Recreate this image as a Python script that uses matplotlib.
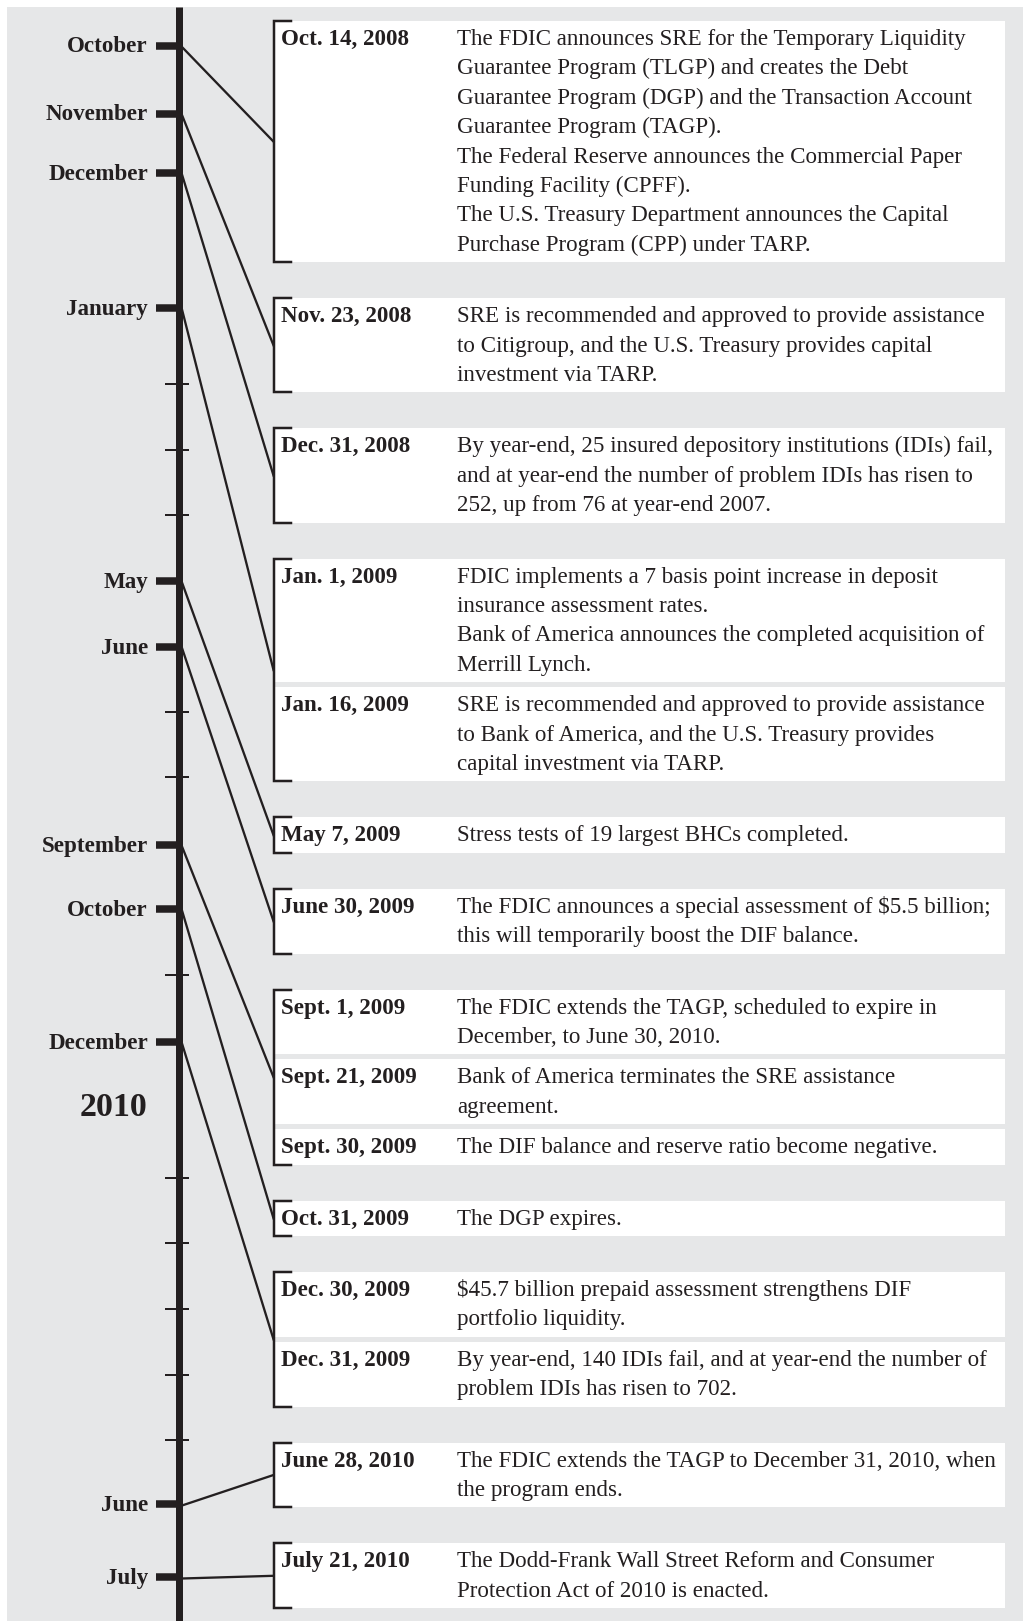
"""FDIC crisis timeline, Oct 2008 - July 2010."""

import matplotlib
matplotlib.use("Agg")
import matplotlib.pyplot as plt
from matplotlib.patches import Rectangle

plt.rcParams["font.family"] = ["Liberation Serif", "DejaVu Serif"]

INK = "#231f20"
BG = "#e6e7e8"

# timeline: month labels and their positions along the axis (pixels from top)
month_labels = ["October", "November", "December", "January", "May", "June",
                "September", "October", "December", "June", "July"]
month_y = [45.5, 113.5, 173, 308, 581, 646.5, 845, 909, 1042, 1504, 1577]
minor_y = [384, 449.5, 515, 711.5, 776.5, 975, 1177.5, 1243, 1309, 1375, 1440]
year_label = "2010"
year_y = 1104

# events: date, group (shares one bracket / month), text lines
dates = ["Oct. 14, 2008", "Nov. 23, 2008", "Dec. 31, 2008", "Jan. 1, 2009",
         "Jan. 16, 2009", "May 7, 2009", "June 30, 2009", "Sept. 1, 2009",
         "Sept. 21, 2009", "Sept. 30, 2009", "Oct. 31, 2009", "Dec. 30, 2009",
         "Dec. 31, 2009", "June 28, 2010", "July 21, 2010"]
groups = [0, 1, 2, 3, 3, 4, 5, 6, 6, 6, 7, 8, 8, 9, 10]
texts = [
    ["The FDIC announces SRE for the Temporary Liquidity",
     "Guarantee Program (TLGP) and creates the Debt",
     "Guarantee Program (DGP) and the Transaction Account",
     "Guarantee Program (TAGP).",
     "The Federal Reserve announces the Commercial Paper",
     "Funding Facility (CPFF).",
     "The U.S. Treasury Department announces the Capital",
     "Purchase Program (CPP) under TARP."],
    ["SRE is recommended and approved to provide assistance",
     "to Citigroup, and the U.S. Treasury provides capital",
     "investment via TARP."],
    ["By year-end, 25 insured depository institutions (IDIs) fail,",
     "and at year-end the number of problem IDIs has risen to",
     "252, up from 76 at year-end 2007."],
    ["FDIC implements a 7 basis point increase in deposit",
     "insurance assessment rates.",
     "Bank of America announces the completed acquisition of",
     "Merrill Lynch."],
    ["SRE is recommended and approved to provide assistance",
     "to Bank of America, and the U.S. Treasury provides",
     "capital investment via TARP."],
    ["Stress tests of 19 largest BHCs completed."],
    ["The FDIC announces a special assessment of $5.5 billion;",
     "this will temporarily boost the DIF balance."],
    ["The FDIC extends the TAGP, scheduled to expire in",
     "December, to June 30, 2010."],
    ["Bank of America terminates the SRE assistance",
     "agreement."],
    ["The DIF balance and reserve ratio become negative."],
    ["The DGP expires."],
    ["$45.7 billion prepaid assessment strengthens DIF",
     "portfolio liquidity."],
    ["By year-end, 140 IDIs fail, and at year-end the number of",
     "problem IDIs has risen to 702."],
    ["The FDIC extends the TAGP to December 31, 2010, when",
     "the program ends."],
    ["The Dodd-Frank Wall Street Reform and Consumer",
     "Protection Act of 2010 is enacted."],
]

W, H = 1023, 1621
PX = 0.72  # px -> pt at dpi 100
FS = 23 * PX

# layout
AXIS_X = 178.5
BOX_L, BOX_R = 273.5, 1005
DATE_X, DESC_X = 281, 457
TOP, LINE_H, PAD, GAP_IN, GAP_OUT = 21, 29.4, 6, 5, 36

fig = plt.figure(figsize=(W / 100, H / 100), dpi=100)
ax = fig.add_axes([0, 0, 1, 1])
ax.set_xlim(0, W)
ax.set_ylim(H, 0)
ax.axis("off")

ax.add_patch(Rectangle((7, 7), W - 7, H - 7, color=BG, lw=0, zorder=0))

# boxes and text
y = TOP
group_span = {}
for i, (d, g, lines) in enumerate(zip(dates, groups, texts)):
    if i > 0:
        y += GAP_IN if g == groups[i - 1] else GAP_OUT
    h = len(lines) * LINE_H + PAD
    ax.add_patch(Rectangle((BOX_L, y), BOX_R - BOX_L, h, color="white", lw=0, zorder=1))
    ax.text(DATE_X, y + 24, d, fontsize=FS, fontweight="bold", color=INK,
            va="baseline", ha="left", zorder=3)
    for k, line in enumerate(lines):
        ax.text(DESC_X, y + 24 + k * LINE_H, line, fontsize=FS, color=INK,
                va="baseline", ha="left", zorder=3)
    top0 = group_span.get(g, (y, y))[0]
    group_span[g] = (top0, y + h)
    y += h

# brackets and connectors
for g, (t, b) in group_span.items():
    ax.plot([BOX_L + 17, BOX_L, BOX_L, BOX_L + 17], [t, t, b, b], color=INK,
            lw=2.5 * PX, solid_joinstyle="miter", zorder=4)
    ax.plot([AXIS_X + 3.5, BOX_L], [month_y[g] + 1.5, (t + b) / 2], color=INK,
            lw=2.3 * PX, zorder=4)

# axis
ax.plot([AXIS_X, AXIS_X], [7, H], color=INK, lw=7 * PX, solid_capstyle="butt", zorder=5)
for my, lab in zip(month_y, month_labels):
    ax.plot([156, AXIS_X], [my, my], color=INK, lw=7.5 * PX, solid_capstyle="butt", zorder=5)
    ax.text(148, my + 7, lab, fontsize=FS, fontweight="bold", color=INK,
            ha="right", va="baseline", zorder=5)
for my in minor_y:
    ax.plot([165, 189], [my, my], color=INK, lw=2 * PX, solid_capstyle="butt", zorder=5)
ax.text(147, year_y + 12, year_label, fontsize=34 * PX, fontweight="bold", color=INK,
        ha="right", va="baseline", zorder=5)

fig.savefig("out.png", dpi=100)
